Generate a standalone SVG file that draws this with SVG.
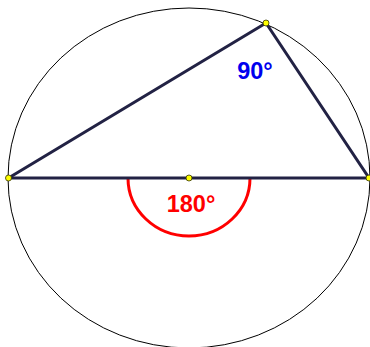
<svg xmlns="http://www.w3.org/2000/svg" width="370" height="347" viewBox="0 0 370 347">
<style>
.edge{stroke:#222244;stroke-width:3;fill:none;stroke-linecap:round}
.pt{fill:#ffff00;stroke:#333300;stroke-width:0.8}
.lbl{font-family:"Liberation Sans",Arial,sans-serif;font-weight:bold;font-size:23.5px;text-anchor:middle}
</style>
<rect width="370" height="347" fill="#ffffff"/>
<g id="circle"><ellipse cx="189" cy="178" rx="181" ry="170" fill="none" stroke="#000" stroke-width="1"/></g>
<g id="arc180"><path d="M128,178 A61,58 0 0 0 250,178" fill="none" stroke="#ff0000" stroke-width="3"/></g>
<g id="connectors">
<line class="edge" x1="8.5" y1="178" x2="369" y2="178"/>
<line class="edge" x1="8.5" y1="178" x2="266" y2="23"/>
<line class="edge" x1="266" y1="23" x2="369" y2="178"/>
</g>
<g id="labels">
<text class="lbl" x="191" y="212" fill="#ff0000">180°</text>
<text class="lbl" x="255" y="79" fill="#0000ee">90°</text>
</g>
<g id="pA"><circle class="pt" cx="8.5" cy="178" r="3"/></g>
<g id="pB"><circle class="pt" cx="266" cy="23" r="3"/></g>
<g id="pC"><circle class="pt" cx="369" cy="178" r="3"/></g>
<g id="pO"><circle class="pt" cx="189" cy="178" r="3"/></g>
</svg>
